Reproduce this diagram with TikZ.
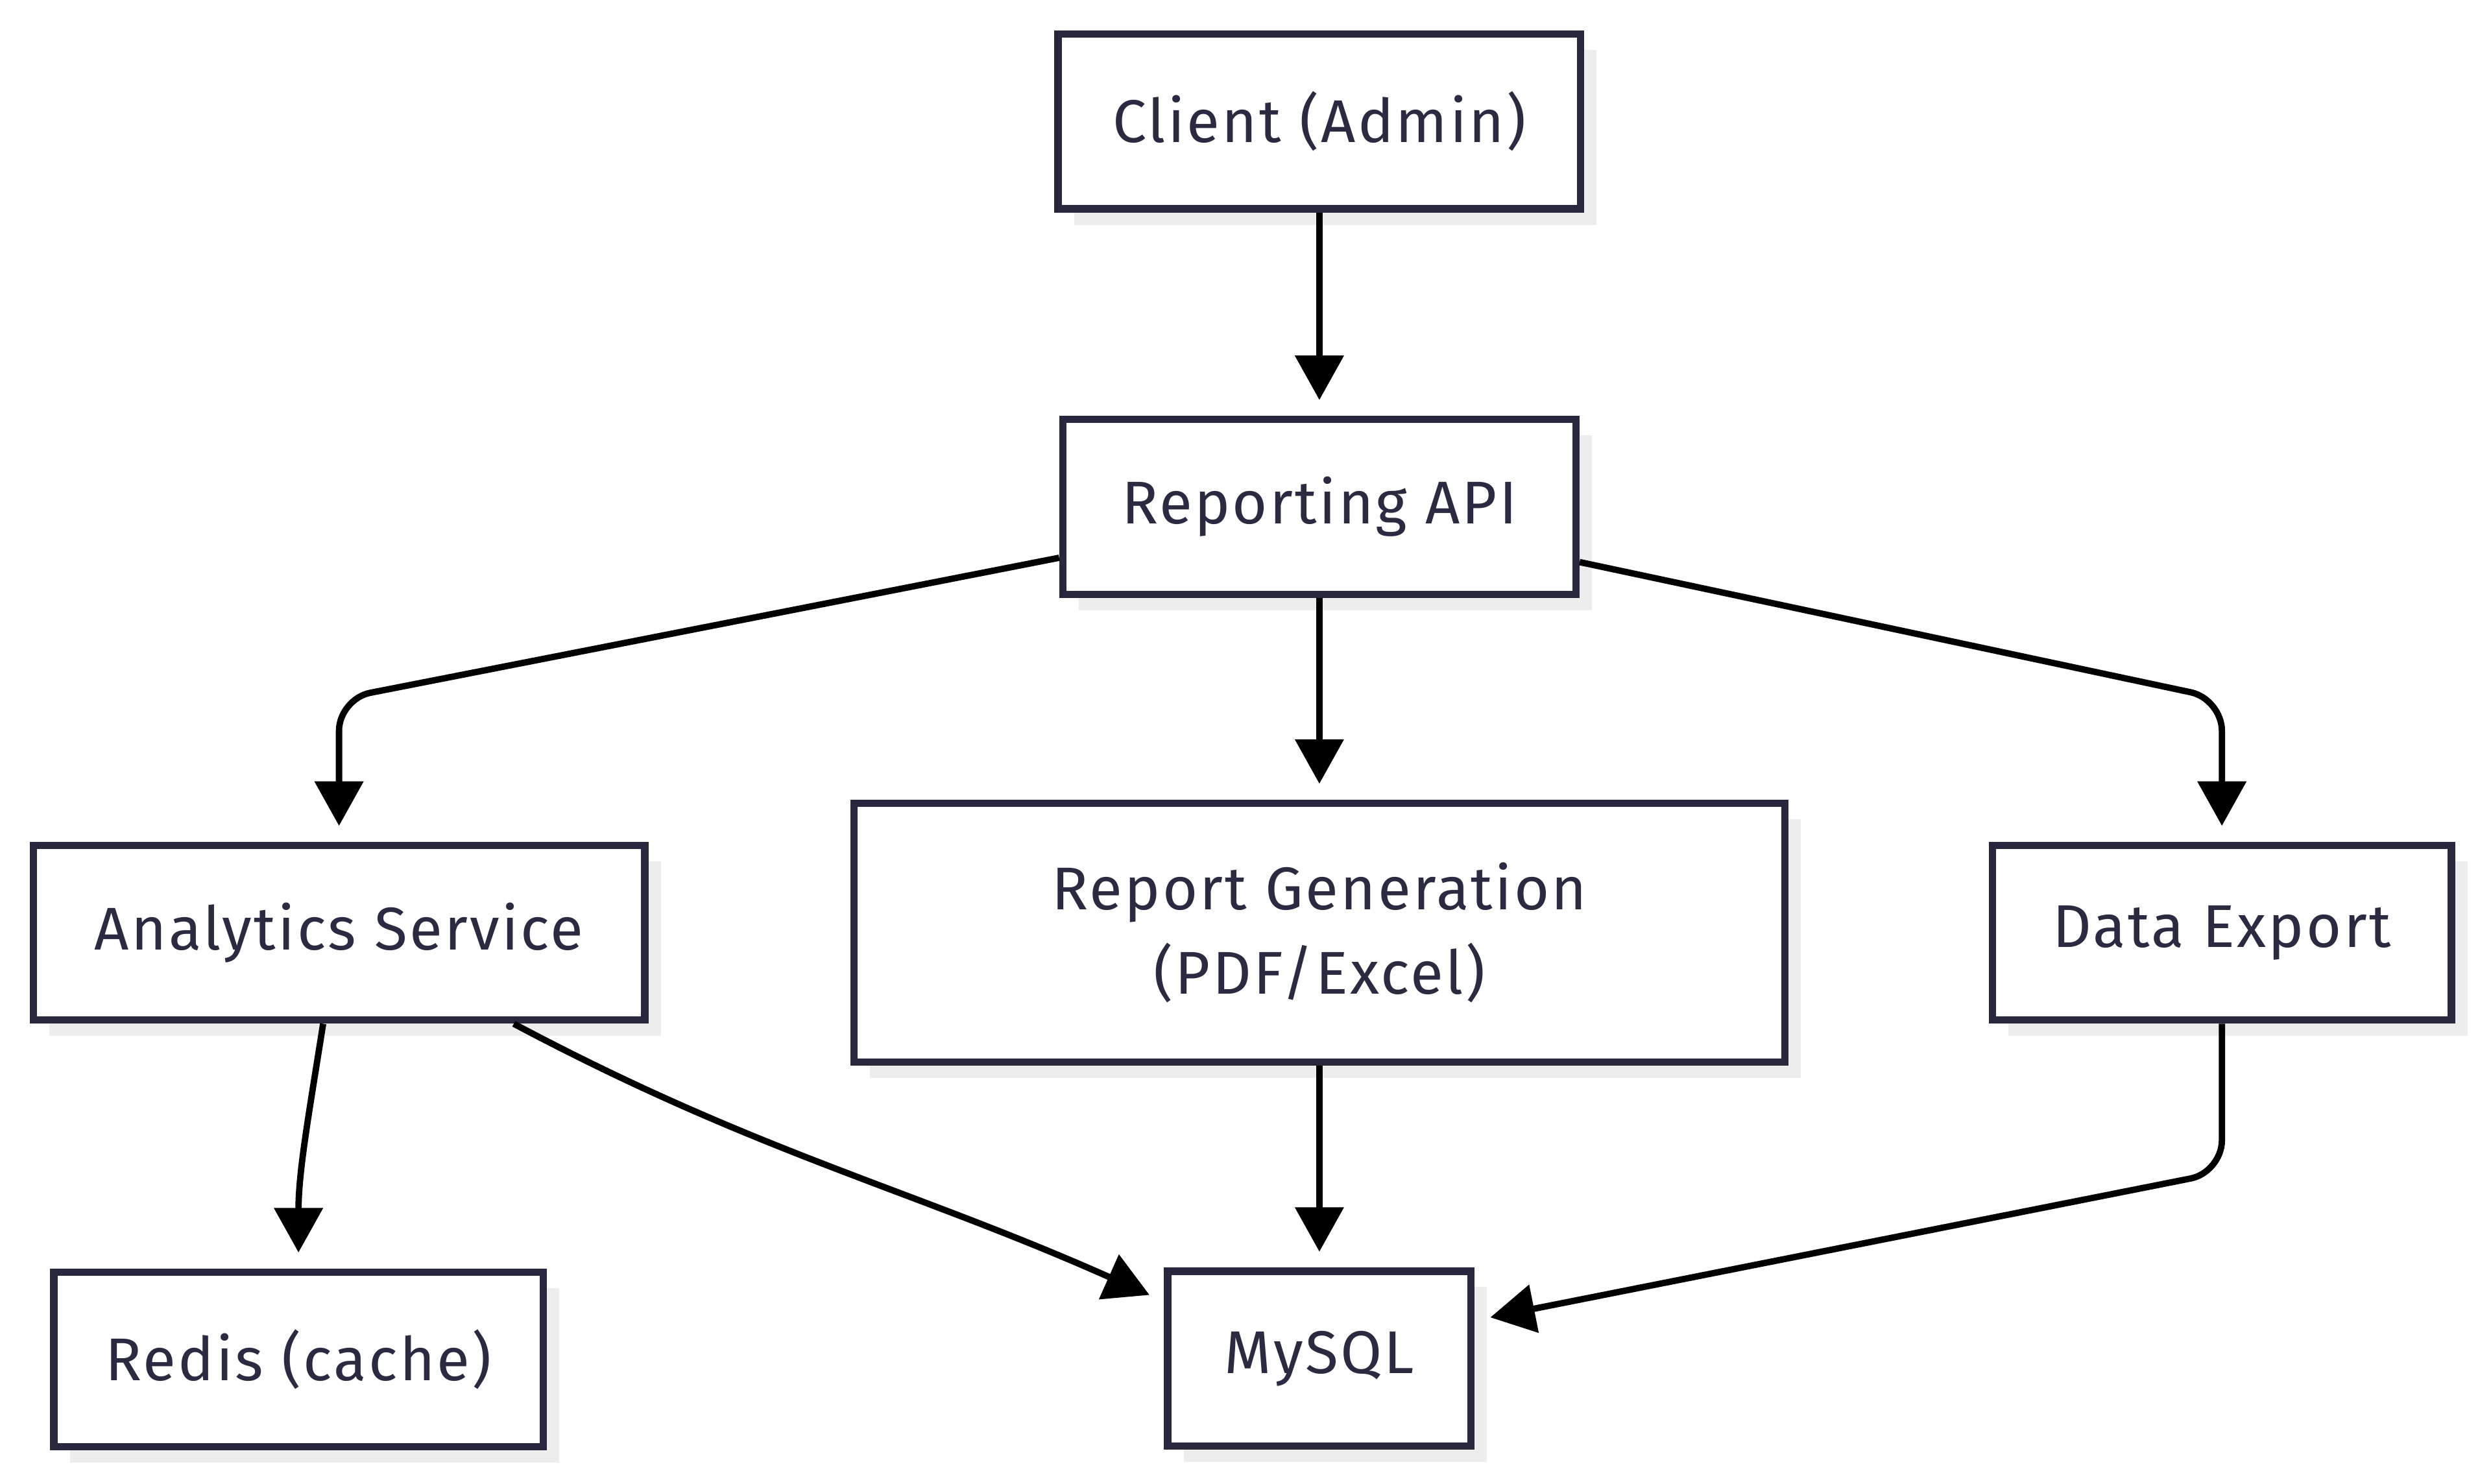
\documentclass[tikz,border=0pt]{standalone}
\usepackage{fontspec}
\setmainfont{Fira Sans}[LetterSpace=3.5]
\usetikzlibrary{positioning,shadows,arrows.meta}
\definecolor{boxline}{HTML}{27273D}
\definecolor{boxtext}{HTML}{2A2A40}
\definecolor{boxshadow}{HTML}{EDEDED}

\begin{document}
\begin{tikzpicture}[x=0.5pt, y=-0.5pt,
    servicenode/.style={rectangle, draw=boxline, line width=2.3pt, fill=white, text=boxtext,
        font=\fontsize{19}{26.5}\selectfont, minimum height=55pt, align=center,
        drop shadow={shadow xshift=5pt, shadow yshift=-5pt, fill=boxshadow, opacity=1}},
    flow/.style={line width=2pt, -{Triangle[width=15pt,length=14pt]}, shorten >=5pt, rounded corners=10pt}]

        \useasboundingbox (0,0) rectangle (1568,934);

        \node[servicenode, minimum width=164.5pt] (client) at (830.5,76.5) {Client (Admin)};
        \node[servicenode, minimum width=161.5pt] (api) [below=64pt of client] {Reporting API};
        \node[servicenode, minimum width=293pt, minimum height=81.5pt] (report) [below=63.5pt of api] {Report Generation\\(PDF/Excel)};
        \node[servicenode, minimum width=192.5pt] (analytics) [left=63.5pt of report] {Analytics Service};
        \node[servicenode, minimum width=144.5pt] (export) [right=63pt of report] {Data Export};
        \node[servicenode, minimum width=95.5pt] (mysql) [below=63.5pt of report] {MySQL};
        \node[servicenode, minimum width=154pt] (redis) [below=77pt of analytics, xshift=-12.75pt] {Redis (cache)};

        % bends of the side branches
        \coordinate (analyticsbend) at (analytics.north |- 0,440);
        \coordinate (exportbend) at (export.north |- 0,440);
        \coordinate (exportout) at (export.south |- 0,738);

        \draw[flow] (client) -- (api);
        \draw[flow] (api) -- (analyticsbend) -- (analytics);
        \draw[flow] (api) -- (report);
        \draw[flow] (api) -- (exportbend) -- (export);
        \draw[flow] ([xshift=-5pt]analytics.south) to[out=-99, in=90] (redis.north);
        \draw[flow] ([xshift=55pt]analytics.south) to[out=-28, in=156] ([yshift=18pt]mysql.west);
        \draw[flow] (report) -- (mysql);
        \draw[flow] (export) -- (exportout) -- ([yshift=12pt]mysql.east);

        \end{tikzpicture}
\end{document}
